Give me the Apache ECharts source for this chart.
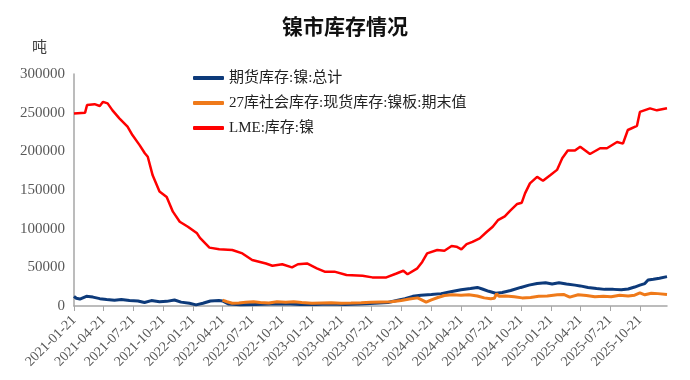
<!DOCTYPE html>
<html>
<head>
<meta charset="utf-8">
<script src="https://cdn.jsdelivr.net/npm/echarts@6/dist/echarts.min.js"></script>
<style>
html,body{margin:0;padding:0;background:#fff;}
#chart{width:690px;height:380px;}
</style>
</head>
<body>
<div id="chart"></div>
<script>
// ---- data ----
const titleText = '镍市库存情况';
const unitText = '吨';
const seriesNames = ['期货库存:镍:总计', '27库社会库存:现货库存:镍板:期末值', 'LME:库存:镍'];
const xTickLabels = ['2021-01-21','2021-04-21','2021-07-21','2021-10-21','2022-01-21','2022-04-21','2022-07-21','2022-10-21','2023-01-21','2023-04-21','2023-07-21','2023-10-21','2024-01-21','2024-04-21','2024-07-21','2024-10-21','2025-01-21','2025-04-21','2025-07-21','2025-10-21'];
const xMin = '2021-01-21';
const xMax = '2026-01-12';

const futDates = ['2021-01-21','2021-01-28','2021-02-08','2021-02-28','2021-03-20','2021-04-10','2021-05-01','2021-05-25','2021-06-15','2021-07-10','2021-08-05','2021-08-25','2021-09-15','2021-10-10','2021-11-01','2021-11-25','2021-12-15','2022-01-10','2022-01-30','2022-02-20','2022-03-15','2022-04-10','2022-04-21','2022-05-10','2022-06-15','2022-08-01','2022-09-15','2022-11-01','2022-12-15','2023-02-01','2023-03-15','2023-05-01','2023-06-15','2023-08-01','2023-09-10','2023-10-10','2023-11-01','2023-11-25','2023-12-20','2024-01-21','2024-02-20','2024-03-20','2024-04-21','2024-05-20','2024-06-10','2024-06-25','2024-07-15','2024-08-05','2024-08-25','2024-09-20','2024-10-21','2024-11-15','2024-12-10','2025-01-05','2025-01-25','2025-02-15','2025-03-10','2025-04-05','2025-04-21','2025-05-15','2025-06-10','2025-07-05','2025-08-01','2025-08-25','2025-09-15','2025-10-05','2025-10-21','2025-11-05','2025-11-15','2025-12-01','2025-12-20','2026-01-12'];
const futValues = [12500,10000,9000,12500,11500,9500,8500,7500,8500,7000,6500,4500,7000,5500,6000,7800,5000,3500,1500,3500,6500,7000,6500,2500,1500,2000,2500,3000,2000,2000,2500,2000,2500,3500,4500,7500,9500,12500,14000,15000,16000,18500,21000,22500,24000,22000,19000,16500,17500,20000,24000,27000,29000,30000,28500,30000,28500,27000,26000,24000,22500,21500,21500,21000,22000,24500,27000,29000,33500,34500,36000,38000];

const socDates = ['2022-04-21','2022-05-05','2022-05-21','2022-06-10','2022-07-01','2022-07-25','2022-08-15','2022-09-10','2022-10-05','2022-11-01','2022-11-25','2022-12-20','2023-01-20','2023-02-20','2023-03-20','2023-04-20','2023-05-20','2023-06-20','2023-07-20','2023-08-20','2023-09-20','2023-10-21','2023-11-15','2023-12-10','2024-01-05','2024-01-21','2024-02-10','2024-03-01','2024-03-25','2024-04-21','2024-05-15','2024-06-10','2024-07-01','2024-07-21','2024-08-01','2024-08-08','2024-08-15','2024-09-05','2024-10-01','2024-10-25','2024-11-20','2024-12-15','2025-01-10','2025-02-10','2025-03-01','2025-03-20','2025-04-15','2025-05-10','2025-06-05','2025-07-01','2025-07-25','2025-08-20','2025-09-15','2025-10-05','2025-10-21','2025-11-05','2025-11-25','2025-12-15','2026-01-12'];
const socValues = [7500,5500,3500,4000,4800,5600,4500,3800,5600,5000,5600,4500,3500,4000,4300,3500,3800,4200,4800,5200,5600,7000,9000,10500,5000,8000,11000,13500,14500,14000,14500,13000,10500,9500,10000,16000,12500,13000,12000,10500,11000,12500,13000,14500,15000,11500,14500,13500,12000,12500,12000,14000,13000,14000,17000,14500,16500,16000,15000];

const lmeDates = ['2021-01-21','2021-02-24','2021-02-28','2021-03-02','2021-03-25','2021-04-10','2021-04-20','2021-05-04','2021-05-19','2021-06-09','2021-07-04','2021-07-19','2021-08-10','2021-08-26','2021-09-04','2021-09-19','2021-10-10','2021-11-01','2021-11-20','2021-12-11','2022-01-05','2022-02-02','2022-02-11','2022-03-12','2022-04-11','2022-05-21','2022-06-21','2022-07-21','2022-09-01','2022-09-21','2022-10-21','2022-11-20','2022-12-08','2023-01-05','2023-02-04','2023-02-28','2023-03-30','2023-05-06','2023-06-24','2023-07-24','2023-09-05','2023-10-06','2023-10-27','2023-11-09','2023-12-09','2023-12-24','2024-01-08','2024-02-08','2024-03-01','2024-03-23','2024-04-07','2024-04-22','2024-05-08','2024-05-26','2024-06-17','2024-07-09','2024-07-27','2024-08-12','2024-09-02','2024-09-18','2024-10-10','2024-10-24','2024-11-03','2024-11-18','2024-12-10','2024-12-28','2025-01-19','2025-02-09','2025-02-25','2025-03-14','2025-04-05','2025-04-21','2025-05-21','2025-06-21','2025-07-12','2025-08-12','2025-08-30','2025-09-14','2025-10-12','2025-10-21','2025-11-21','2025-12-12','2026-01-12'];
const lmeValues = [249000,250000,249500,260000,261000,258600,264000,262000,253000,242700,232000,221000,208000,197500,193000,169000,148000,141000,122000,109000,102500,94000,88000,75500,73300,72400,68000,59500,55000,52000,54000,50000,54000,55000,48700,44400,44400,40000,39000,37000,37000,42000,45600,41000,48700,57000,68000,72400,71500,77600,76700,73300,80000,83000,87500,96000,102500,111000,116000,123000,132000,133600,145700,158600,167000,162000,169000,176000,191000,201000,201000,206000,196500,204000,204000,212000,210000,227600,233000,251000,255600,253000,255600];

const yMin = 0, yMax = 300000, yStep = 50000;

// ---- build ----
const ts = s => new Date(s + 'T00:00:00Z').getTime();
function pairs(d, v){ return d.map((x,i)=>[ts(x), v[i]]); }
const tickTs = xTickLabels.map(ts);
function fmtDate(v){
  const d = new Date(v);
  const p = n => (n<10?'0':'')+n;
  return d.getUTCFullYear()+'-'+p(d.getUTCMonth()+1)+'-'+p(d.getUTCDate());
}
const labelFont = '"Liberation Serif", serif';
const cjkFont = '"Liberation Serif", "Noto Sans CJK SC", sans-serif';

const chart = echarts.init(document.getElementById('chart'), null, {renderer:'canvas'});
chart.setOption({
  animation:false,
  backgroundColor:'#fff',
  title:{
    text:titleText, left:'center', top:11,
    textStyle:{fontFamily:'"Noto Sans CJK SC", sans-serif', fontSize:21, fontWeight:'bold', color:'#111'}
  },
  graphic:[{type:'text', left:32, top:39, style:{text:unitText, font:'15px "Noto Sans CJK SC", sans-serif', fill:'#404040'}}],
  legend:{
    orient:'vertical', left:193, top:70, padding:0, itemGap:9,
    itemWidth:31, itemHeight:4, icon:'roundRect',
    textStyle:{fontFamily:cjkFont, fontSize:15, color:'#222', lineHeight:16},
    data:seriesNames
  },
  grid:{left:74, right:23, top:74, bottom:74, containLabel:false},
  xAxis:{
    type:'value', min:ts(xMin), max:ts(xMax),
    splitLine:{show:false},
    axisLine:{show:true, lineStyle:{color:'#a6a6a6', width:1.5}},
    axisTick:{show:true, customValues:tickTs, length:5, lineStyle:{color:'#a6a6a6'}},
    axisLabel:{
      customValues:tickTs, rotate:45, margin:12, color:'#595959',
      fontFamily:labelFont, fontSize:14,
      formatter:fmtDate
    }
  },
  yAxis:{
    type:'value', min:yMin, max:yMax, interval:yStep,
    splitLine:{show:false},
    axisLine:{show:true, lineStyle:{color:'#a6a6a6', width:1.5}},
    axisTick:{show:false},
    axisLabel:{color:'#595959', fontFamily:labelFont, fontSize:15, margin:9, formatter:function(v){return String(v);}}
  },
  series:[
    {name:seriesNames[0], type:'line', data:pairs(futDates,futValues), showSymbol:false, color:'#0d3a7a', lineStyle:{width:3}},
    {name:seriesNames[1], type:'line', data:pairs(socDates,socValues), showSymbol:false, color:'#ef7a1a', lineStyle:{width:3}},
    {name:seriesNames[2], type:'line', data:pairs(lmeDates,lmeValues), showSymbol:false, color:'#ff0000', lineStyle:{width:2.5}}
  ]
});
</script>
</body>
</html>
